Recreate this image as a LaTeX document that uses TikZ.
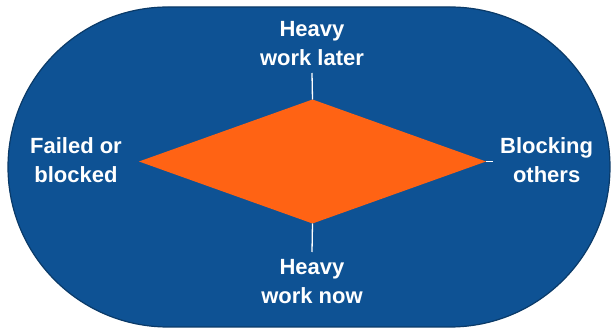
\documentclass[tikz,border=0pt]{standalone}
\usepackage{fontspec}
\setmainfont{Liberation Sans}
\usetikzlibrary{shapes.geometric, positioning}

\definecolor{poolblue}{HTML}{0E5294}
\definecolor{pooledge}{HTML}{0A3A68}
\definecolor{hotorange}{HTML}{FF6314}

\begin{document}
\begin{tikzpicture}[x=1pt, y=-1pt,
    pole/.style={font=\bfseries\fontsize{22}{29}\selectfont, text=white, align=center, inner xsep=7pt, inner ysep=7pt},
    tick/.style={white, line width=1.3pt}]
    \useasboundingbox (0,0) rectangle (614,328);

    % The rounded pool behind everything
    \draw[fill=poolblue, draw=pooledge, line width=1.2pt, rounded corners=160pt] (8,7) rectangle (610,327);

    % The orange diamond in the middle
    \node[diamond, fill=hotorange, minimum width=347pt, minimum height=124pt, inner sep=0pt, outer sep=0pt] (core) at (312.5,161.5) {};

    % Labels round the diamond
    \node[pole, anchor=south] (later) at (312,73) {Heavy\\work later};
    \node[pole, anchor=north] (now) at (312,252) {Heavy\\work now};
    \node[pole, anchor=west] (blocking) at (493,160) {Blocking\\others};
    \node[pole, anchor=east] (failed) at (129,160) {Failed or\\blocked};

    % Small white ticks
    \draw[tick] (core.north) -- (later.south);
    \draw[tick] (core.south) -- (now.north);
    \draw[tick] (core.east) -- (core.east -| blocking.west);
\end{tikzpicture}
\end{document}
